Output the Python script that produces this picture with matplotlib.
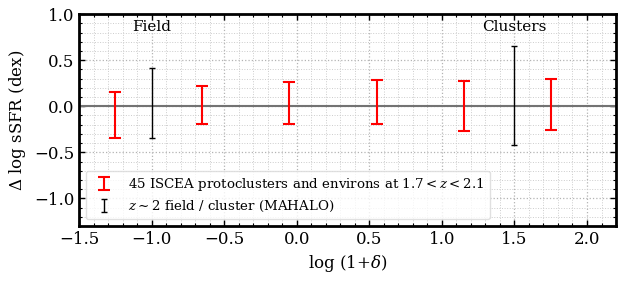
import matplotlib
matplotlib.use("Agg")
import matplotlib.pyplot as plt
from matplotlib.ticker import MultipleLocator

# ISCEA protoclusters (red) and MAHALO field/cluster (black)
x_iscea = [-1.25, -0.65, -0.05, 0.55, 1.15, 1.75]
y_iscea = [-0.09, 0.015, 0.035, 0.047, 0.0, 0.024]
e_iscea = [0.25, 0.205, 0.225, 0.243, 0.27, 0.277]

x_mahalo = [-1.0, 1.5]
y_mahalo = [0.035, 0.117]
e_mahalo = [0.385, 0.533]

env_labels = ["Field", "Clusters"]

plt.rcParams['font.family'] = 'DejaVu Serif'
plt.rcParams['mathtext.fontset'] = 'dejavuserif'

fig = plt.figure(figsize=(6.23, 2.81), dpi=100)
ax = fig.add_axes([0.1268, 0.1957, 0.862, 0.754])

ax.axhline(0, color='0.45', lw=1.5, zorder=1)

ax.errorbar(x_iscea, y_iscea, yerr=e_iscea, fmt='none', ecolor='red',
            elinewidth=1.5, capsize=4, capthick=1.5, zorder=3,
            label=r'45 ISCEA protoclusters and environs at $1.7 < z < 2.1$')
ax.errorbar(x_mahalo, y_mahalo, yerr=e_mahalo, fmt='none', ecolor='black',
            elinewidth=1.0, capsize=2, capthick=1.0, zorder=3,
            label=r'$z \sim 2$ field / cluster (MAHALO)')

for xx, t in zip(x_mahalo, env_labels):
    ax.text(xx, 0.86, t, ha='center', va='center', fontsize=11)

ax.set_xlim(-1.5, 2.2)
ax.set_ylim(-1.3, 1.0)
ax.xaxis.set_major_locator(MultipleLocator(0.5))
ax.xaxis.set_minor_locator(MultipleLocator(0.1))
ax.yaxis.set_major_locator(MultipleLocator(0.5))
ax.yaxis.set_minor_locator(MultipleLocator(0.1))

ax.grid(True, which='major', ls=':', color='0.7', lw=0.9)
ax.grid(True, which='minor', ls=':', color='0.8', lw=0.7)
ax.set_axisbelow(True)

ax.tick_params(which='both', direction='in', top=True, right=True, labelsize=12)
ax.tick_params(which='major', length=4, width=1)
ax.tick_params(which='minor', length=2.5, width=0.8)
for s in ax.spines.values():
    s.set_linewidth(2.0)

ax.set_xlabel(r'log $(1{+}\delta)$', fontsize=12)
ax.set_ylabel(r'$\Delta$ log sSFR (dex)', fontsize=12)

ax.legend(loc='lower left', fontsize=9.6, frameon=True, fancybox=True,
          framealpha=0.8, edgecolor='0.85', borderaxespad=0.5,
          labelspacing=0.45)

fig.savefig('out.png', dpi=100)
